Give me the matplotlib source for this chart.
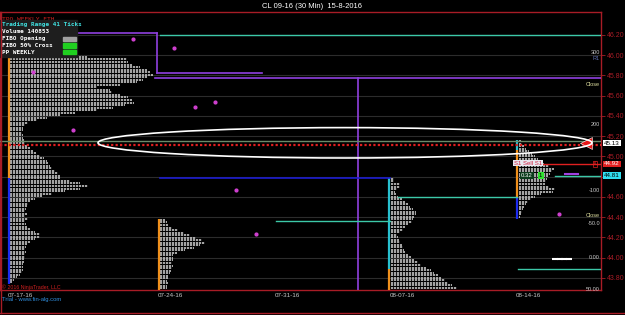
import numpy as np
import matplotlib.pyplot as plt
from matplotlib.patches import Ellipse

# ---- data ----
step = 0.025  # price per profile row

# weekly TPO profiles: start bar, top price, row lengths (bars)
p1_x, p1_top = 10, 45.983
p1_len = [77, 117, 118, 122, 130, 137, 140, 143, 137, 133,
          127, 110, 87, 100, 102, 110, 118, 122, 124, 115,
          103, 87, 65, 50, 37, 27, 18, 15, 13, 13,
          12, 13, 13, 14, 15, 17, 20, 23, 26, 30,
          34, 37, 38, 40, 42, 45, 48, 50, 50, 60,
          70, 78, 70, 55, 42, 32, 25, 20, 18, 17,
          16, 15, 17, 15, 18, 15, 16, 17, 20, 25,
          30, 30, 25, 20, 17, 16, 15, 16, 15, 15,
          14, 14, 13, 13, 13, 12, 10, 7, 4, 2]
p2_x, p2_top = 160, 44.373
p2_len = [5, 7, 8, 12, 18, 24, 30, 36, 42, 45, 40, 34, 25, 17,
          13, 13, 13, 12, 13, 12, 11, 10, 8, 8, 7, 8, 7, 7]
p3_x, p3_top = 391, 44.778
p3_len = [3, 3, 9, 9, 6, 4, 5, 7, 11, 14, 17, 19, 22, 25, 25,
          23, 22, 21, 17, 14, 12, 9, 6, 7, 8, 9, 11, 12, 13, 14,
          17, 20, 23, 27, 30, 35, 40, 43, 47, 50, 54, 57, 61, 66]
p4_x, p4_top = 519, 45.153
p4_len = [2, 3, 5, 7, 10, 13, 16, 19, 22, 25, 30, 35, 33, 31, 29, 28,
          27, 26, 30, 36, 34, 22, 16, 12, 9, 7, 5, 4, 3, 2, 1]

# colored open/close bars at profile left edge: (x, price from, price to, color)
edge_bars = [(8.5, 46.00, 44.788, '#f0901c'), (8.5, 44.788, 43.741, '#1c2cf0'),
             (158.5, 44.385, 43.68, '#f0901c'),
             (389, 44.79, 43.889, '#28c0d0'), (389, 43.889, 43.68, '#f0901c'),
             (517, 45.165, 45.064, '#28c0d0'), (517, 45.064, 44.59, '#f0901c'),
             (517, 44.59, 44.383, '#1c2cf0')]

# horizontal levels: (price, x from, x to)
pp_levels = [(46.22, 0, 157), (45.825, 157, 262), (45.775, 155, 601)]
teal_levels = [(46.20, 160, 601), (44.363, 276, 390), (44.60, 398, 517),
               (44.81, 555, 601), (43.89, 518, 601)]
blue_level = (44.79, 160, 390)

dots_x = [133, 174, 215, 195, 73, 236, 256, 559, 33]
dots_p = [46.16, 46.072, 45.538, 45.489, 45.262, 44.669, 44.235, 44.432, 45.835]

price_ticks = np.arange(43.80, 46.21, 0.20)
date_pos = [20, 170, 287, 402, 528]
date_lab = ['07-17-16', '07-24-16', '07-31-16', '08-07-16', '08-14-16']

red = '#a81c26'
fig = plt.figure(figsize=(6.25, 3.15), dpi=100, facecolor='black')
ax = fig.add_axes([0, 25/315, 601/625, 278/315], facecolor='black')
ax.set_xlim(0, 601)
ax.set_ylim(43.681, 46.427)

for p in price_ticks:
    ax.axhline(p, color='#2c2c2c', lw=0.8, zorder=0)

# profiles
for x0, top, lens in [(p1_x, p1_top, p1_len), (p2_x, p2_top, p2_len),
                      (p3_x, p3_top, p3_len), (p4_x, p4_top, p4_len)]:
    prices = top - step * np.arange(len(lens))
    ax.hlines(prices, x0, x0 + np.array(lens), color='#c4c4c4', lw=1.2,
              linestyles=[(0, (1.3, 0.5))], zorder=2)

for x, a, b, c in edge_bars:
    ax.plot([x, x], [a, b], color=c, lw=1.6, solid_capstyle='butt', zorder=3)

for p, a, b in pp_levels:
    ax.plot([a, b], [p, p], color='#9040e0', lw=1.2, zorder=3)
ax.plot([157, 157], [46.22, 45.825], color='#9040e0', lw=1.2, zorder=3)
ax.plot([358, 358], [45.775, 43.68], color='#9040e0', lw=1.2, zorder=3)

for p, a, b in teal_levels:
    ax.plot([a, b], [p, p], color='#3cc8a8', lw=1.0, zorder=3)
ax.plot(blue_level[1:], [blue_level[0]] * 2, color='#1c1cd0', lw=1.2, zorder=3)

ax.scatter(dots_x, dots_p, s=4, color='#d040d0', zorder=4)
ax.plot([565, 578], [44.83, 44.83], color='#a040e0', lw=1.5, zorder=4)

# current price / fib lines
ax.axhline(45.148, color='#6a8a6a', lw=1.0, zorder=3)
ax.axhline(45.118, color='#e02020', lw=1.6, ls=(0, (1, 1)), zorder=3)
ax.plot([527, 601], [44.926, 44.926], color='#e02020', lw=1.0, zorder=3)
ax.plot([586], [45.133], marker='<', ms=9, color='#e81818', mec='white', mew=0.4, zorder=5)
ax.add_patch(Ellipse((345, 45.135), 494, 0.30, fill=False, ec='white', lw=1.2, zorder=5))
ax.plot([555, 560, 564, 569], [43.99] * 4, color='white', zorder=4, ls='none',
        marker='_', ms=4, mew=1.5)

# spines and axes
for s in ax.spines.values():
    s.set_color(red)
    s.set_linewidth(1.0)
ax.yaxis.tick_right()
ax.set_yticks(price_ticks)
ax.set_yticklabels(['' if abs(p - 44.8) < 0.01 else '%.2f' % p for p in price_ticks])
ax.tick_params(axis='y', colors=red, labelsize=5, length=3, pad=1, width=0.6)
ax.set_xticks(date_pos)
ax.set_xticklabels(date_lab)
ax.tick_params(axis='x', colors='#c8c8c8', labelsize=4.5, length=0, pad=2)
for t in ax.get_yticklabels() + ax.get_xticklabels():
    t.set_fontfamily('Liberation Sans')

fnt = 'Liberation Sans'
fig.text(0.5, 1 - 6/315, 'CL 09-16 (30 Min)  15-8-2016', color='white', fontsize=5.5,
         ha='center', va='center', family=fnt)
fig.add_artist(plt.Line2D([0, 1], [2/315, 2/315], color=red, lw=1.0))
fig.add_artist(plt.Line2D([1/625, 1/625], [2/315, 303/315], color=red, lw=1.0))

# legend box top-left
mono = 'DejaVu Sans Mono'
ax.text(2, 46.355, 'TPO WEEKLY ETH', color='#d02020', fontsize=4.5, family=mono, va='center')
ax.add_patch(plt.Rectangle((0, 45.98), 77, 0.37, color='#1e1e1e', zorder=6))
leg = [('Trading Range 41 Ticks', '#40e0e0', None), ('Volume 140853', 'white', None),
       ('FIBO Opening', 'white', '#a0a0a0'), ('FIBO 50% Cross', 'white', '#20d020'),
       ('PP WEEKLY', 'white', '#20d020')]
for i, (txt, c, sw) in enumerate(leg):
    yy = 46.30 - i * 0.068
    ax.text(2, yy, txt, color=c, fontsize=4.3, family=mono, va='center', weight='bold', zorder=7)
    if sw:
        ax.add_patch(plt.Rectangle((63, yy - 0.02), 13, 0.04, color=sw, zorder=7))

# right side annotations
rt = [(46.03, '300', '#c8c8c8'), (45.97, 'R1', '#6070b0'), (45.71, 'Close', '#e0e0a0'),
      (45.32, '200', '#c8c8c8'), (44.66, '-100', '#c8c8c8'), (44.42, 'Close', '#e0e0a0'),
      (44.34, '-50.0', '#c8c8c8'), (44.00, '0.00', '#c8c8c8'), (43.69, '50.00', '#c8c8c8')]
for p, t, c in rt:
    ax.text(600, p, t, color=c, fontsize=4, ha='right', va='center', family=fnt, zorder=6)

boxes = [(45.133, '45.13', 'white', 'black'), (44.926, '44.92', '#e02020', 'white'),
         (44.81, '44.81', '#30e0f0', 'black')]
for p, t, bg, fg in boxes:
    ax.text(604, p, t, color=fg, fontsize=4.5, va='center', family=fnt,
            bbox=dict(boxstyle='square,pad=0.15', fc=bg, ec='none'), zorder=8)
ax.text(595, 44.926, 'X', color='#e02020', fontsize=4, va='center', ha='center',
        bbox=dict(boxstyle='square,pad=0.1', fc='none', ec='#e02020', lw=0.5))

ax.text(514, 44.935, 'S1 Sell S1', color='#d02040', fontsize=4.3, va='center', family=fnt,
        bbox=dict(boxstyle='square,pad=0.15', fc='#e8e8f0', ec='none'), zorder=8)
ax.text(521, 44.815, '0.32', color='white', fontsize=4.3, va='center', family=fnt,
        bbox=dict(boxstyle='square,pad=0.2', fc='#0c3c1c', ec='none'), zorder=8)
ax.text(539, 44.815, '1', color='black', fontsize=4.3, va='center', family=fnt,
        bbox=dict(boxstyle='square,pad=0.2', fc='#30e030', ec='none'), zorder=8)

ax.text(2, 43.71, '\u00a9 2016 NinjaTrader, LLC', color='#d02020', fontsize=3.8,
        va='center', family=fnt, zorder=8)
fig.text(2/625, 1 - 300/315, 'Trial - www.fin-alg.com', color='#3090e0', fontsize=4.2,
         va='center', family=fnt)

fig.savefig('out.png', dpi=100, facecolor='black')
